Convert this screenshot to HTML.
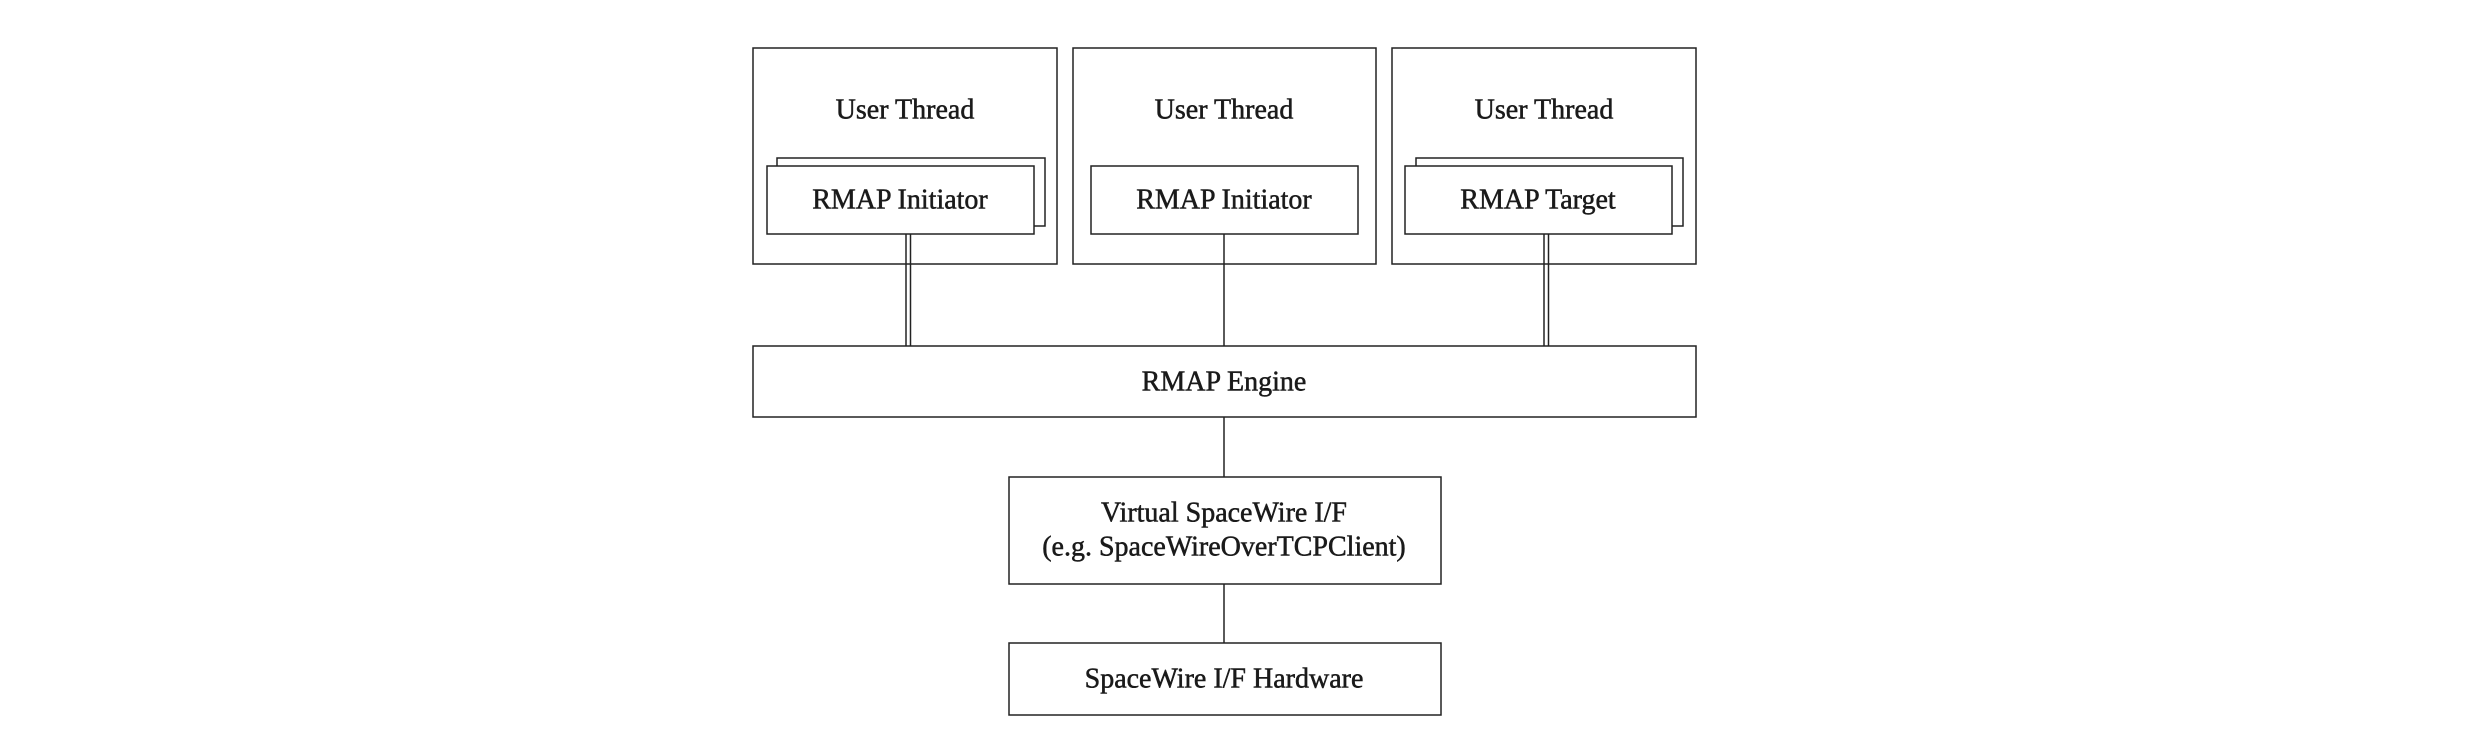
<!DOCTYPE html>
<html><head><meta charset="utf-8"><style>
html,body{margin:0;padding:0;background:#fff;}
svg{display:block;}
text{font-family:"Liberation Serif",serif;font-size:28px;fill:#1a1a1a;stroke:#1a1a1a;stroke-width:0.5;text-anchor:middle;dominant-baseline:central;}
</style></head><body>
<svg width="2469" height="750" viewBox="0 0 2469 750" xmlns="http://www.w3.org/2000/svg">
<g fill="#fff" stroke="#222" stroke-width="1.5">
<rect x="753" y="48" width="304" height="216"/>
<rect x="1073" y="48" width="303" height="216"/>
<rect x="1392" y="48" width="304" height="216"/>
<rect x="777" y="158" width="268" height="68"/>
<rect x="767" y="166" width="267" height="68"/>
<rect x="1091" y="166" width="267" height="68"/>
<rect x="1416" y="158" width="267" height="68"/>
<rect x="1405" y="166" width="267" height="68"/>
<line x1="906" y1="234" x2="906" y2="346"/>
<line x1="910.5" y1="234" x2="910.5" y2="346"/>
<line x1="1224" y1="234" x2="1224" y2="346"/>
<line x1="1544" y1="234" x2="1544" y2="346"/>
<line x1="1548.5" y1="234" x2="1548.5" y2="346"/>
<rect x="753" y="346" width="943" height="71"/>
<line x1="1224" y1="417" x2="1224" y2="477"/>
<rect x="1009" y="477" width="432" height="107"/>
<line x1="1224" y1="584" x2="1224" y2="643"/>
<rect x="1009" y="643" width="432" height="72"/>
</g>
<text x="905" y="110">User Thread</text>
<text x="1224" y="110">User Thread</text>
<text x="1544" y="110">User Thread</text>
<text x="900" y="200">RMAP Initiator</text>
<text x="1224" y="200">RMAP Initiator</text>
<text x="1538" y="200">RMAP Target</text>
<text x="1224" y="382">RMAP Engine</text>
<text x="1224" y="513">Virtual SpaceWire I/F</text>
<text x="1224" y="547">(e.g. SpaceWireOverTCPClient)</text>
<text x="1224" y="679">SpaceWire I/F Hardware</text>
</svg>
</body></html>
